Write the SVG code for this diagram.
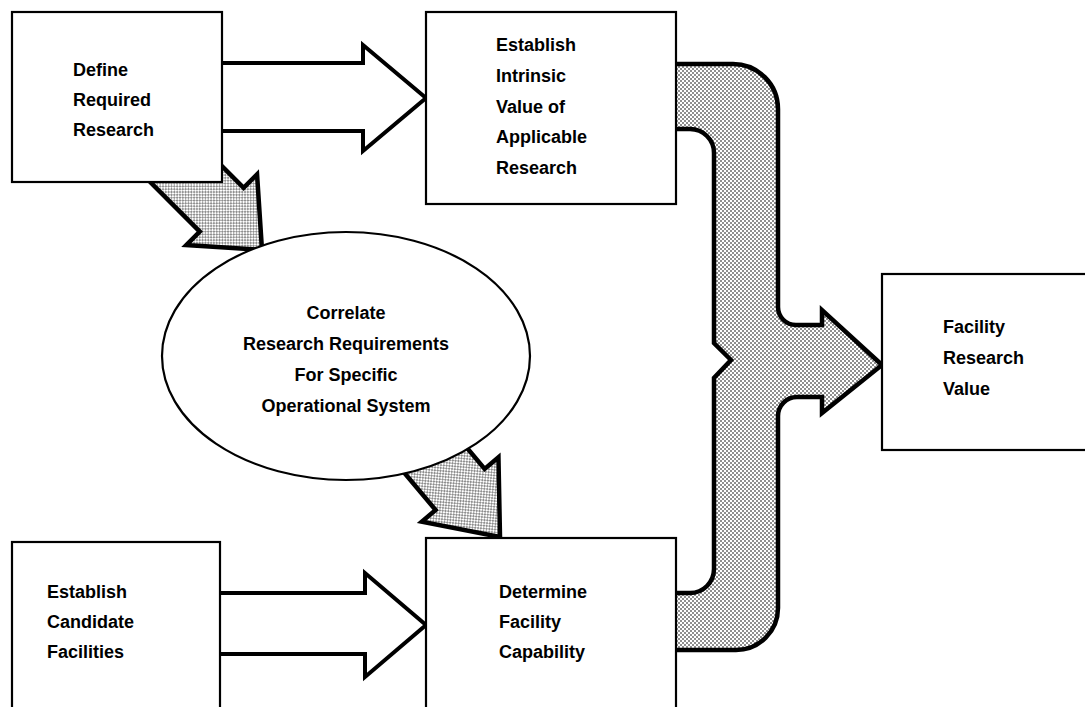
<svg xmlns="http://www.w3.org/2000/svg" width="1085" height="707" viewBox="0 0 1085 707">
  <style>
    .box { fill: #ffffff; stroke: #000000; stroke-width: 2.2; }
    .lbl { font-family: "Liberation Sans", Arial, sans-serif; font-weight: bold; font-size: 18px; fill: #000000; }
    .mid { text-anchor: middle; }
    .plain { fill: #ffffff; stroke: #000000; stroke-width: 4; stroke-linejoin: miter; }
    .dense { fill: url(#stipple); stroke: #000000; stroke-width: 4.5; stroke-linejoin: miter; }
  </style>
  <defs>
    <pattern id="stipple" width="4" height="4" patternUnits="userSpaceOnUse">
      <rect width="4" height="4" fill="#ffffff"/>
      <circle cx="1" cy="1" r="0.8" fill="#000000"/>
      <circle cx="3" cy="3" r="0.8" fill="#000000"/>
    </pattern>
  </defs>
  <rect width="1085" height="707" fill="#ffffff"/>

  <g id="connectors">
    <!-- Define -> Establish Intrinsic Value -->
    <polygon class="plain" points="212,63 363,63 363,45 426,98 363,151 363,131 212,131"/>
    <!-- Establish Candidate -> Determine Facility Capability -->
    <polygon class="plain" points="210,593 365,593 365,573 426,625 365,677 365,654 210,654"/>
    <!-- Define -> Correlate (diagonal) -->
    <polygon class="dense" transform="translate(262,250) rotate(45)" points="0,0 -57,-50 -57,-31 -150,-31 -150,31 -57,31 -57,50"/>
    <!-- Correlate -> Determine (diagonal) -->
    <polygon class="dense" transform="translate(500,537) rotate(50)" points="0,0 -62,-50 -62,-32 -150,-32 -150,32 -62,32 -62,50"/>
    <!-- Merge connector to Facility Research Value -->
    <path class="dense" d="M670,64 H733 A45,45 0 0 1 778,109 V307 A18,18 0 0 0 796,325 H822 V310 L882,365 L822,413 V397 H797 A19,19 0 0 0 778,416 V608 A42,42 0 0 1 736,650 H670 V593 H690 A24,24 0 0 0 714,569 V378 L731,360 L714,343 V153 A24,24 0 0 0 690,129 H670 Z"/>
  </g>

  <g id="node-define">
    <rect class="box" x="12" y="12" width="210" height="170"/>
    <text class="lbl" x="73" y="76">Define</text>
    <text class="lbl" x="73" y="106">Required</text>
    <text class="lbl" x="73" y="136">Research</text>
  </g>

  <g id="node-intrinsic">
    <rect class="box" x="426" y="12" width="250" height="192"/>
    <text class="lbl" x="496" y="51">Establish</text>
    <text class="lbl" x="496" y="82">Intrinsic</text>
    <text class="lbl" x="496" y="113">Value of</text>
    <text class="lbl" x="496" y="143">Applicable</text>
    <text class="lbl" x="496" y="174">Research</text>
  </g>

  <g id="node-correlate">
    <ellipse class="box" cx="346" cy="356" rx="184" ry="124"/>
    <text class="lbl mid" x="346" y="319">Correlate</text>
    <text class="lbl mid" x="346" y="350">Research Requirements</text>
    <text class="lbl mid" x="346" y="381">For Specific</text>
    <text class="lbl mid" x="346" y="412">Operational System</text>
  </g>

  <g id="node-candidate">
    <rect class="box" x="12" y="542" width="208" height="200"/>
    <text class="lbl" x="47" y="598">Establish</text>
    <text class="lbl" x="47" y="628">Candidate</text>
    <text class="lbl" x="47" y="658">Facilities</text>
  </g>

  <g id="node-capability">
    <rect class="box" x="426" y="538" width="250" height="200"/>
    <text class="lbl" x="499" y="598">Determine</text>
    <text class="lbl" x="499" y="628">Facility</text>
    <text class="lbl" x="499" y="658">Capability</text>
  </g>

  <g id="node-value">
    <rect class="box" x="882" y="274" width="210" height="176"/>
    <text class="lbl" x="943" y="333">Facility</text>
    <text class="lbl" x="943" y="364">Research</text>
    <text class="lbl" x="943" y="395">Value</text>
  </g>
</svg>
